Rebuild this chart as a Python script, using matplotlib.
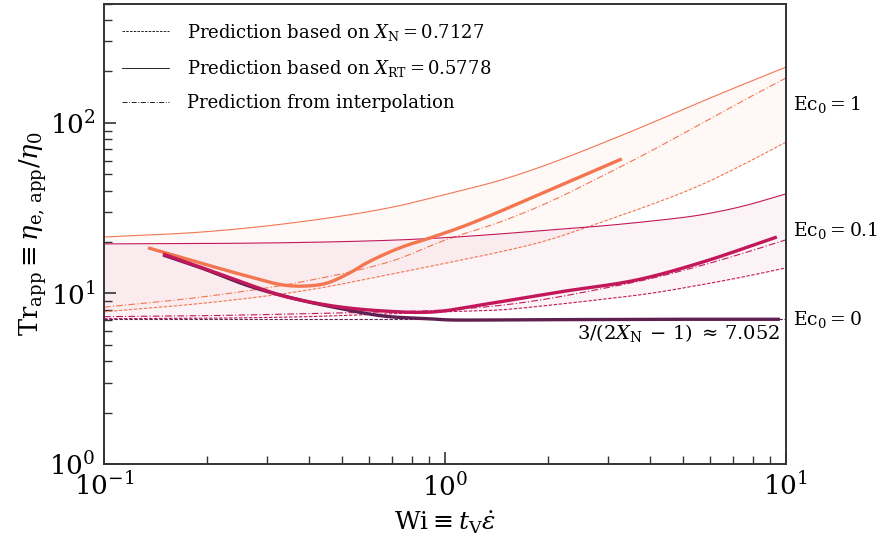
import numpy as np
import matplotlib
matplotlib.use("Agg")
import matplotlib.pyplot as plt
from matplotlib.lines import Line2D

plt.rcParams["font.family"] = ["DejaVu Serif"]
plt.rcParams["mathtext.fontset"] = "dejavuserif"

# ---- colours for each Ec0 family ----
c_ec1 = "#F37651"
c_ec01 = "#C2185B"
c_ec0 = "#5E1F51"

# ---- prediction curves (Wi grid shared) ----
wi_pred = [0.1, 0.2, 0.39, 0.7, 1.0, 1.45, 2.0, 2.85, 4.0, 5.6, 7.5, 10.0]

# Ec0 = 1
ec1_rt = [21.4, 23.0, 26.5, 32.0, 38.0, 46.0, 57.0, 75.0, 99.0, 132.0, 168.0, 212.0]
ec1_n = [7.8, 8.8, 10.4, 13.0, 15.0, 17.5, 20.5, 26.0, 33.0, 43.0, 57.0, 77.0]
ec1_interp = [8.3, 9.6, 11.8, 15.5, 20.5, 26.2, 34.0, 48.0, 68.0, 98.0, 135.0, 183.0]

# Ec0 = 0.1
ec01_rt = [19.5, 19.6, 19.9, 20.5, 21.2, 22.3, 23.5, 24.8, 26.5, 28.8, 32.5, 38.3]
ec01_n = [7.1, 7.15, 7.3, 7.6, 7.8, 8.0, 8.5, 9.2, 10.0, 11.2, 12.5, 14.1]
ec01_interp = [7.3, 7.4, 7.6, 7.8, 8.0, 8.5, 9.3, 10.6, 12.2, 14.5, 17.2, 20.6]

# Ec0 = 0 limit
tr_limit = 7.052

# ---- measured / computed trajectories ----
wi_ec1 = [0.1346, 0.191, 0.268, 0.335, 0.394, 0.451, 0.526, 0.59, 0.738, 0.922, 1.161, 2.03, 3.30]
tr_ec1 = [18.5, 15.1, 12.5, 11.2, 11.05, 11.5, 13.2, 15.1, 18.5, 21.4, 25.2, 40.4, 61.4]

wi_ec01 = [0.149, 0.191, 0.268, 0.335, 0.469, 0.658, 0.922, 1.27, 2.17, 3.66, 5.6, 9.4]
tr_ec01 = [17.0, 14.3, 11.2, 9.66, 8.44, 7.89, 7.78, 8.55, 10.2, 12.0, 15.1, 21.4]

wi_ec0 = [0.149, 0.191, 0.268, 0.376, 0.469, 0.658, 0.922, 1.0, 1.45, 2.85, 5.0, 9.6]
tr_ec0 = [16.8, 14.2, 11.0, 9.15, 8.32, 7.37, 7.08, 7.0, 7.0, 7.03, 7.05, 7.05]

ec_labels = [r"$\mathrm{Ec}_0 = 1$", r"$\mathrm{Ec}_0 = 0.1$", r"$\mathrm{Ec}_0 = 0$"]


def smooth(x, y, n=300):
    """Cubic Hermite interpolation in log-log space."""
    lx, ly = np.log10(x), np.log10(y)
    xs = np.linspace(lx[0], lx[-1], n)
    d = np.diff(ly) / np.diff(lx)
    m = np.empty_like(ly)
    m[0], m[-1] = d[0], d[-1]
    m[1:-1] = (d[:-1] + d[1:]) / 2
    idx = np.clip(np.searchsorted(lx, xs) - 1, 0, len(lx) - 2)
    h = lx[idx + 1] - lx[idx]
    t = (xs - lx[idx]) / h
    h00 = 2 * t**3 - 3 * t**2 + 1
    h10 = t**3 - 2 * t**2 + t
    h01 = -2 * t**3 + 3 * t**2
    h11 = t**3 - t**2
    ys = h00 * ly[idx] + h10 * h * m[idx] + h01 * ly[idx + 1] + h11 * h * m[idx + 1]
    return 10**xs, 10**ys


fig = plt.figure(figsize=(8.82, 5.5), dpi=100)
ax = fig.add_axes([104 / 882, 1 - 464 / 550, (786 - 104) / 882, (464 - 3.5) / 550])
ax.set_xscale("log")
ax.set_yscale("log")

thin = 0.8
thick = 2.4
dash = (0, (3, 1.5))
dashdot = (0, (6, 2, 1, 2))

# Ec0 = 1 band
x, y_rt = smooth(wi_pred, ec1_rt)
_, y_n = smooth(wi_pred, ec1_n)
_, y_i = smooth(wi_pred, ec1_interp)
ax.fill_between(x, y_n, y_rt, color=c_ec1, alpha=0.05, lw=0)
ax.plot(x, y_rt, color=c_ec1, lw=thin, ls="-")
ax.plot(x, y_n, color=c_ec1, lw=thin, ls=dash)
ax.plot(x, y_i, color=c_ec1, lw=thin, ls=dashdot)

# Ec0 = 0.1 band
x, y_rt = smooth(wi_pred, ec01_rt)
_, y_n = smooth(wi_pred, ec01_n)
_, y_i = smooth(wi_pred, ec01_interp)
ax.fill_between(x, y_n, y_rt, color=c_ec01, alpha=0.05, lw=0)
ax.plot(x, y_rt, color=c_ec01, lw=thin, ls="-")
ax.plot(x, y_n, color=c_ec01, lw=thin, ls=dash)
ax.plot(x, y_i, color=c_ec01, lw=thin, ls=dashdot)

# Ec0 = 0 limit
ax.axhline(tr_limit, color=c_ec0, lw=thin, ls=dash)

# trajectories
x, y = smooth(wi_ec1, tr_ec1)
ax.plot(x, y, color=c_ec1, lw=thick, solid_capstyle="butt")
x, y = smooth(wi_ec0, tr_ec0)
ax.plot(x, y, color=c_ec0, lw=thick, solid_capstyle="butt")
x, y = smooth(wi_ec01, tr_ec01)
ax.plot(x, y, color=c_ec01, lw=thick, solid_capstyle="butt")

ax.set_xlim(0.1, 10)
ax.set_ylim(1, 500)

# labels on the right side
for lab, yv in zip(ec_labels, [np.sqrt(212 * 77), np.sqrt(38.3 * 14.1), tr_limit]):
    ax.text(1.01, yv, lab, transform=ax.get_yaxis_transform(), fontsize=13.5,
            va="center", ha="left")

ax.text(9.6, tr_limit * 0.97, r"$3/(2X_\mathrm{N}\,-\,1)\;\approx\,7.052$", fontsize=14,
        ha="right", va="top")

# legend
handles = [
    Line2D([], [], color="k", lw=0.6, ls=dash),
    Line2D([], [], color="k", lw=0.6, ls="-"),
    Line2D([], [], color="k", lw=0.6, ls=dashdot),
]
labels = [
    r"Prediction based on $X_\mathrm{N} = 0.7127$",
    r"Prediction based on $X_\mathrm{RT} = 0.5778$",
    "Prediction from interpolation",
]
ax.legend(handles, labels, loc="upper left", frameon=False, fontsize=13,
          handlelength=2.6, handletextpad=1.0, borderaxespad=0.6, labelspacing=0.85,
          bbox_to_anchor=(0.0, 1.0))

ax.set_xlabel(r"$\mathrm{Wi} \equiv t_\mathrm{V}\dot{\epsilon}$", fontsize=18, labelpad=6)
ax.set_ylabel(r"$\mathrm{Tr}_\mathrm{app} \equiv \eta_\mathrm{e,\,app}/\eta_0$", fontsize=18.5,
              labelpad=0)

for s in ax.spines.values():
    s.set_linewidth(1.4)
    s.set_color("#333333")
ax.tick_params(which="both", direction="in", top=False, right=False, color="#333333",
               labelsize=19)
ax.tick_params(which="major", length=8.5, width=1.2, pad=6)
ax.tick_params(which="minor", length=6, width=1.0)

fig.savefig("out.png", dpi=100)
